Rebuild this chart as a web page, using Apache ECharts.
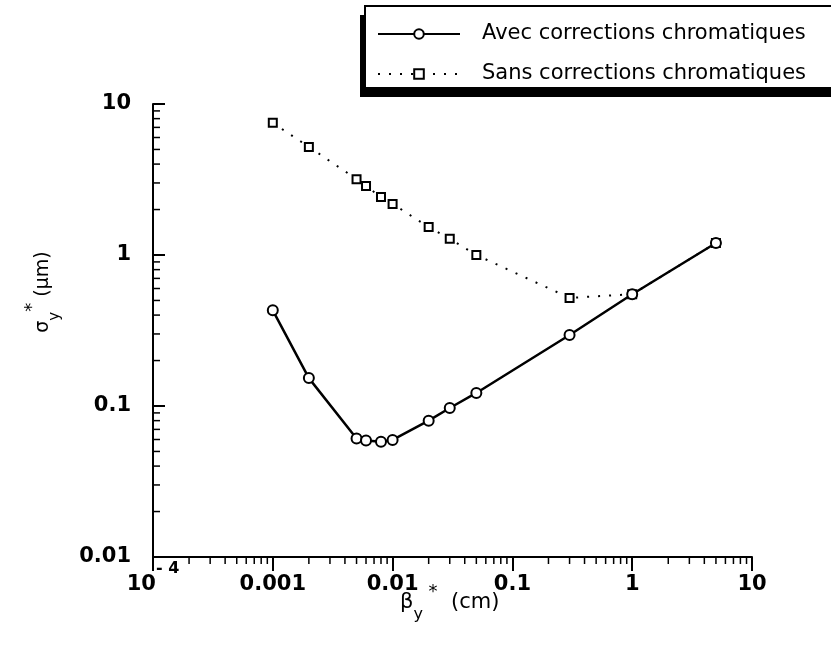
<!DOCTYPE html>
<html>
<head>
<meta charset="utf-8">
<script src="https://cdn.jsdelivr.net/npm/echarts@6/dist/echarts.min.js"></script>
<style>
  html, body { margin: 0; padding: 0; background: #fff; }
  #chart { width: 831px; height: 648px; }
</style>
</head>
<body>
<div id="chart"></div>
<script>
// beta_y* (cm) and sigma_y* (um)
const betaY = [0.001, 0.002, 0.005, 0.006, 0.008, 0.01, 0.02, 0.03, 0.05, 0.3, 1, 5];
const sigmaAvec = [0.43, 0.153, 0.061, 0.059, 0.058, 0.0596, 0.080, 0.097, 0.122, 0.295, 0.55, 1.2];
const sigmaSans = [7.5, 5.2, 3.18, 2.86, 2.42, 2.18, 1.53, 1.28, 1.0, 0.52, 0.55, 1.2];
const seriesNames = ['Avec corrections chromatiques', 'Sans corrections chromatiques'];

// minor tick positions on the log axes (2..9 in each decade)
const xDecades = [-4, -3, -2, -1, 0];
const yDecades = [-2, -1, 0];
const minorSteps = [2, 3, 4, 5, 6, 7, 8, 9];

const FONT = 'DejaVu Sans';

function pairs(xs, ys) {
  return xs.map(function (x, i) { return [x, ys[i]]; });
}

const xMinor = [];
xDecades.forEach(function (d) {
  minorSteps.forEach(function (m) { xMinor.push([m * Math.pow(10, d), 0.01]); });
});
const yMinor = [];
yDecades.forEach(function (d) {
  minorSteps.forEach(function (m) { yMinor.push([1e-4, m * Math.pow(10, d)]); });
});

const chart = echarts.init(document.getElementById('chart'), null, { renderer: 'canvas' });

const option = {
  backgroundColor: '#fff',
  animation: false,
  grid: { left: 153, right: 79, top: 104, bottom: 91 },
  legend: {
    data: seriesNames,
    orient: 'vertical',
    left: 365,
    top: 6,
    z: 10,
    padding: [17, 60, 3, 12],
    itemWidth: 82,
    itemHeight: 12,
    itemGap: 18,
    backgroundColor: '#fff',
    borderColor: '#000',
    borderWidth: 2,
    textStyle: {
      fontFamily: FONT,
      fontSize: 21,
      lineHeight: 22,
      color: '#000',
      padding: [0, 0, 0, 17]
    }
  },
  xAxis: {
    type: 'log',
    min: 1e-4,
    max: 10,
    logBase: 10,
    splitLine: { show: false },
    axisLine: { lineStyle: { color: '#000', width: 2 } },
    axisTick: { inside: false, length: 14, lineStyle: { color: '#000', width: 2 } },
    axisLabel: {
      margin: 4,
      formatter: function (v) {
        if (v < 5e-4) return '{b|10}{s|- 4}';
        return '{b|' + v + '}';
      },
      rich: {
        b: { fontFamily: FONT, fontWeight: 'bold', fontSize: 21, lineHeight: 34, verticalAlign: 'bottom', color: '#000' },
        s: { fontFamily: FONT, fontWeight: 'bold', fontSize: 16, lineHeight: 34, verticalAlign: 'top', color: '#000' }
      }
    }
  },
  yAxis: {
    type: 'log',
    min: 0.01,
    max: 10,
    logBase: 10,
    splitLine: { show: false },
    axisLine: { lineStyle: { color: '#000', width: 2 } },
    axisTick: { inside: true, length: 12, lineStyle: { color: '#000', width: 2 } },
    axisLabel: {
      margin: 22,
      fontFamily: FONT,
      fontWeight: 'bold',
      fontSize: 21,
      color: '#000',
      formatter: function (v) { return String(v); }
    }
  },
  graphic: [
    {
      // hard drop shadow behind the legend box
      type: 'rect',
      z: 1,
      shape: { x: 360, y: 15, width: 500, height: 82 },
      style: { fill: '#000' }
    },
    {
      type: 'text',
      x: 400,
      y: 583,
      style: {
        text: '{m|β}{sub|y}{sup| *}{m|  (cm)}',
        fill: '#000',
        rich: {
          m: { fontFamily: FONT, fontSize: 21, lineHeight: 40, fill: '#000' },
          sub: { fontFamily: FONT, fontSize: 16, lineHeight: 40, verticalAlign: 'bottom', fill: '#000' },
          sup: { fontFamily: FONT, fontSize: 18, lineHeight: 40, verticalAlign: 'top', fill: '#000' }
        }
      }
    },
    {
      type: 'text',
      x: 43,
      y: 292,
      rotation: Math.PI / 2,
      style: {
        text: '{m|σ}{sub|y}{sup|*}{m| (μm)}',
        align: 'center',
        verticalAlign: 'middle',
        fill: '#000',
        rich: {
          m: { fontFamily: FONT, fontSize: 19, lineHeight: 40, fill: '#000' },
          sub: { fontFamily: FONT, fontSize: 15, lineHeight: 40, verticalAlign: 'bottom', fill: '#000' },
          sup: { fontFamily: FONT, fontSize: 18, lineHeight: 40, verticalAlign: 'top', fill: '#000' }
        }
      }
    }
  ],
  series: [
    {
      name: seriesNames[0],
      type: 'line',
      data: pairs(betaY, sigmaAvec),
      symbol: 'emptyCircle',
      symbolSize: 10,
      itemStyle: { color: '#000', borderColor: '#000', borderWidth: 2 },
      lineStyle: { color: '#000', width: 2.5 },
      z: 3
    },
    {
      name: seriesNames[1],
      type: 'line',
      data: pairs(betaY, sigmaSans),
      symbol: 'emptyRect',
      symbolSize: 8,
      itemStyle: { color: '#000', borderColor: '#000', borderWidth: 2 },
      lineStyle: { color: '#000', width: 2, type: [2, 9] },
      z: 2
    },
    {
      type: 'custom',
      silent: true,
      clip: false,
      data: xMinor,
      renderItem: function (params, api) {
        const p = api.coord([api.value(0), api.value(1)]);
        return {
          type: 'line',
          shape: { x1: p[0], y1: p[1], x2: p[0], y2: p[1] + 7 },
          style: { stroke: '#000', lineWidth: 1.5 }
        };
      }
    },
    {
      type: 'custom',
      silent: true,
      clip: false,
      data: yMinor,
      renderItem: function (params, api) {
        const p = api.coord([api.value(0), api.value(1)]);
        return {
          type: 'line',
          shape: { x1: p[0], y1: p[1], x2: p[0] + 7, y2: p[1] },
          style: { stroke: '#000', lineWidth: 1.5 }
        };
      }
    }
  ]
};

chart.setOption(option);
</script>
</body>
</html>
